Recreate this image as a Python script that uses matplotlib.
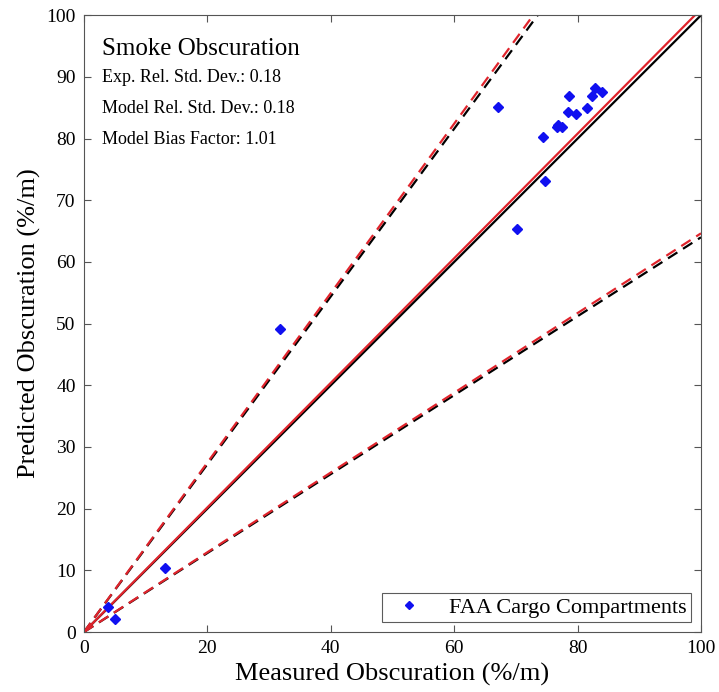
import numpy as np
import matplotlib
matplotlib.use("Agg")
import matplotlib.pyplot as plt

plt.rcParams['font.family'] = ['Liberation Serif', 'DejaVu Serif']

# measured vs predicted obscuration (%/m)
measured = [3.9, 5.0, 13.1, 31.8, 67.1, 70.2, 74.7, 74.4, 76.6, 77.4, 76.9,
            78.4, 79.7, 78.6, 81.5, 82.3, 82.8, 84.0]
predicted = [4.1, 2.1, 10.4, 49.2, 85.2, 65.3, 73.1, 80.2, 81.8, 81.8, 82.2,
             84.3, 84.0, 86.9, 84.9, 86.9, 88.2, 87.5]

EXP_SIGMA = 0.18
MODEL_SIGMA = 0.18
BIAS = 1.01

title_lines = ["Smoke Obscuration",
               "Exp. Rel. Std. Dev.: 0.18",
               "Model Rel. Std. Dev.: 0.18",
               "Model Bias Factor: 1.01"]

fig = plt.figure(figsize=(7.19, 6.92), dpi=100)
ax = fig.add_axes([0.1168, 0.0867, 0.8582, 0.8913])

x = np.array([0, 100])
# experimental uncertainty (black), model (red)
ax.plot(x, x, 'k-', lw=1.6)
ax.plot(x, x * (1 + 2 * EXP_SIGMA), 'k--', lw=1.6, dashes=(5, 3))
ax.plot(x, x * (1 - 2 * EXP_SIGMA), 'k--', lw=1.6, dashes=(5, 3))
ax.plot(x, BIAS * x, '-', color='#e0242c', lw=1.6)
ax.plot(x, BIAS * x * (1 + 2 * EXP_SIGMA), '--', color='#e0242c', lw=1.6, dashes=(5, 3))
ax.plot(x, BIAS * x * (1 - 2 * EXP_SIGMA), '--', color='#e0242c', lw=1.6, dashes=(5, 3))

ax.plot(measured, predicted, 'D', color='#1010f0', markersize=5,
        label='FAA Cargo Compartments')

ax.set_xlim(0, 100)
ax.set_ylim(0, 100)
ax.set_xticks(range(0, 101, 20))
ax.set_yticks(range(0, 101, 10))
for s in ax.spines.values():
    s.set_color('#555555')
ax.tick_params(direction='in', labelsize=14, length=5, top=True, right=True,
               color='#555555', pad=6)
ax.set_xlabel('Measured Obscuration (%/m)', fontsize=19, labelpad=4)
ax.set_ylabel('Predicted Obscuration (%/m)', fontsize=19, labelpad=4)

ax.text(3.0, 94.5, title_lines[0], fontsize=18, va='center')
for i, t in enumerate(title_lines[1:]):
    ax.text(3.0, 89.9 - 5 * i, t, fontsize=13, va='center')

leg = ax.legend(loc='lower right', fontsize=16, frameon=True, fancybox=False,
                edgecolor='#333333', borderaxespad=0.45, handletextpad=0.8,
                markerscale=0.8, borderpad=0.2, handlelength=2.0)
leg.get_frame().set_linewidth(0.8)

fig.savefig('out.png', dpi=100)
